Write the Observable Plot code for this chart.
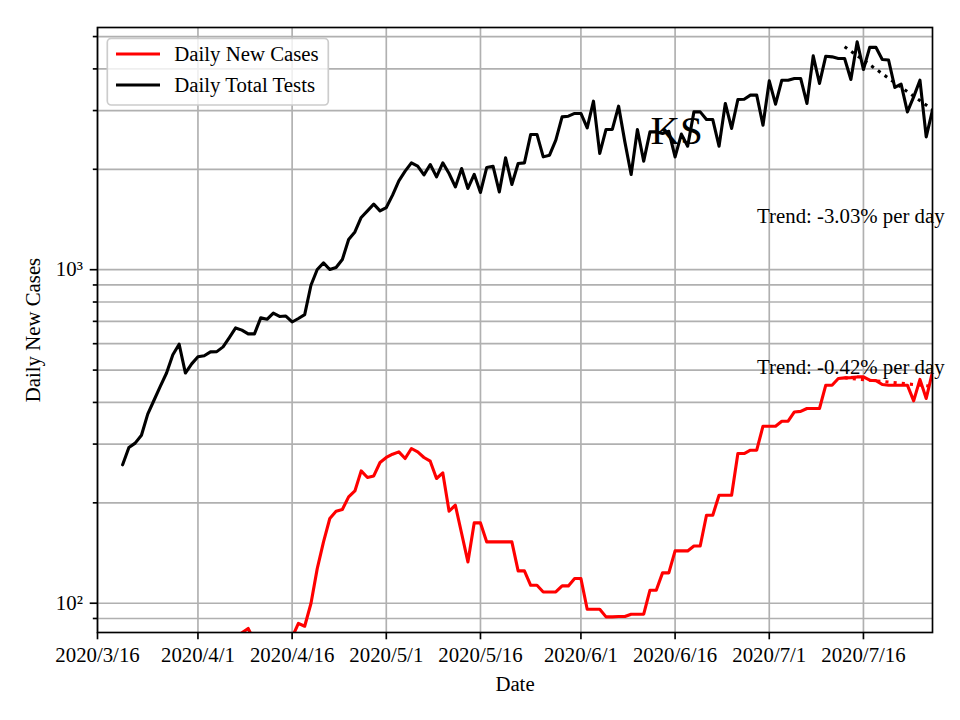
<!DOCTYPE html>
<html><head><meta charset="utf-8">
<script src="https://cdn.jsdelivr.net/npm/d3@7"></script>
<script src="https://cdn.jsdelivr.net/npm/@observablehq/plot@0.6"></script>
<style>
html,body{margin:0;padding:0;background:#fff;}
#chart{width:960px;height:720px;}
</style></head><body><div id="chart"></div>
<script>
// ---- data ----
const testsStart = "2020-03-20";
const dailyTotalTests = [
 260,293,302,319,369,406,447,490,556,598,
 490,522,548,552,567,568,587,626,669,659,
 642,642,717,710,741,724,726,697,714,733,
 898,1001,1048,1001,1015,1073,1232,1298,1434,1501,
 1572,1501,1536,1673,1846,1974,2090,2043,1924,2067,
 1898,2090,1943,1771,2011,1752,1932,1704,2025,2043,
 1711,2164,1801,2082,2090,2544,2544,2179,2205,2445,
 2872,2886,2941,2941,2662,3201,2231,2633,2633,3093,
 2417,1930,2633,2115,2590,2590,2560,2600,2179,2550,
 2346,2973,2973,2820,2820,2346,3150,2651,3238,3245,
 3337,3337,2712,3683,3135,3700,3700,3744,3744,3150,
 4376,3617,4366,4346,4298,4298,3718,4822,3984,4639,
 4639,4269,4254,3518,3599,2973,3298,3700,2502,3008
];
const casesStart = "2020-04-08";
// null = no visible segment (values below the axis)
const dailyNewCases = [
 81.5,84,77,null,null,null,null,null,79,87,
 85.3,99.8,127,152.7,179.5,188.7,191,208.3,217.1,249.3,
 238.2,240.8,264.2,273.5,279.8,284.3,271.6,291,284.3,273.5,
 266.6,236.6,245.9,188.7,196.7,161.8,133,174.1,174.1,152.7,
 152.7,152.7,152.7,152.7,125,125,113.2,113.2,108.1,108.1,
 108.1,112.7,112.7,118.6,118.6,95.9,95.9,95.9,91,91,
 91.2,91.2,92.7,92.7,92.7,109.4,109.4,123.3,123.3,143.5,
 143.5,143.5,148.5,148.5,183.6,183.6,210.8,210.8,210.8,281.1,
 281.1,287.6,287.6,339.4,339.4,339.4,351.3,351.3,374.6,375.9,
 383.5,383.5,383.5,450.5,450.5,471.8,473.8,474.6,477,477,
 466.3,465,452.7,450.5,450.5,450.5,450.5,404.2,469,411,494
];
const trendDates = ["2020-07-13", "2020-07-27"];
const testsTrendValues = [4660, 3020];
const casesTrendValues = [474, 447];
const testsTrendLabel = "Trend: -3.03% per day";
const casesTrendLabel = "Trend: -0.42% per day";
const trendLabelDate = "2020-06-29T01:30Z";
const trendLabelValues = [1441, 509];
const stateLabel = "KS";
const stateLabelDate = "2020-06-16T06:00Z";
const stateLabelValue = 2600;
const xTickLabels = ["2020/3/16","2020/4/1","2020/4/16","2020/5/1","2020/5/16","2020/6/1","2020/6/16","2020/7/1","2020/7/16"];
const xDomain = ["2020-03-16", "2020-07-27"];
const yDomain = [81.7, 5323];
const yMajorTicks = [100, 1000];
const yMajorLabels = ["10²", "10³"];
const yMinorTicks = [90, 200, 300, 400, 500, 600, 700, 800, 900, 2000, 3000, 4000, 5000];
const seriesNames = ["Daily New Cases", "Daily Total Tests"];
const seriesColors = ["#ff0000", "#000000"];
const xLabel = "Date";
const yLabel = "Daily New Cases";

// ---- build tables ----
const parseTick = s => { const [y,m,d] = s.split("/").map(Number); return new Date(Date.UTC(y, m-1, d)); };
const xTicks = xTickLabels.map(parseTick);
const tickLabelOf = new Map(xTicks.map((d,i) => [+d, xTickLabels[i]]));
const t0 = new Date(testsStart), c0 = new Date(casesStart);
const tests = dailyTotalTests.map((v,i) => ({date: d3.utcDay.offset(t0, i), value: v}));
const cases = dailyNewCases.map((v,i) => ({date: d3.utcDay.offset(c0, i), value: v}));
const testsTrend = trendDates.map((d,i) => ({date: new Date(d), value: testsTrendValues[i]}));
const casesTrend = trendDates.map((d,i) => ({date: new Date(d), value: casesTrendValues[i]}));
const trendLabels = [
  {date: new Date(trendLabelDate), value: trendLabelValues[0], text: testsTrendLabel},
  {date: new Date(trendLabelDate), value: trendLabelValues[1], text: casesTrendLabel}
];
const FONT = "'Liberation Serif','Times New Roman',serif";
const FS = 20.8;

const chart = Plot.plot({
  width: 960, height: 720,
  marginLeft: 97, marginRight: 28, marginTop: 27, marginBottom: 88,
  style: {fontFamily: FONT, fontSize: FS + "px", background: "white", color: "black"},
  x: {type: "utc", domain: xDomain.map(d => new Date(d))},
  y: {type: "log", domain: yDomain},
  marks: [
    Plot.ruleY(yMajorTicks.concat(yMinorTicks), {stroke: "#b0b0b0", strokeWidth: 1.67}),
    Plot.ruleX(xTicks, {stroke: "#b0b0b0", strokeWidth: 1.67}),
    Plot.lineY(cases, {x: "date", y: "value", stroke: seriesColors[0], strokeWidth: 3.1, clip: true}),
    Plot.lineY(tests, {x: "date", y: "value", stroke: seriesColors[1], strokeWidth: 3.1, clip: true}),
    Plot.lineY(casesTrend, {x: "date", y: "value", stroke: seriesColors[0], strokeWidth: 3.1, strokeDasharray: "3.1,5.1", strokeLinecap: "butt", clip: true}),
    Plot.lineY(testsTrend, {x: "date", y: "value", stroke: seriesColors[1], strokeWidth: 3.1, strokeDasharray: "3.1,5.1", strokeLinecap: "butt", clip: true}),
    Plot.text(trendLabels, {x: "date", y: "value", text: "text", textAnchor: "start", fontSize: FS, fill: "black"}),
    Plot.text([stateLabel], {x: () => new Date(stateLabelDate), y: () => stateLabelValue, text: d => d, fontSize: 41, fill: "black"}),
    Plot.axisX(xTicks, {tickSize: 7.3, tickPadding: 7.3, strokeWidth: 1.67, fontSize: FS, tickFormat: d => tickLabelOf.get(+d), label: null}),
    Plot.axisY(yMajorTicks, {tickSize: 7.3, tickPadding: 7.3, strokeWidth: 1.67, fontSize: FS, tickFormat: d => yMajorLabels[yMajorTicks.indexOf(d)], label: null}),
    Plot.axisY(yMinorTicks, {tickSize: 4.2, strokeWidth: 1.67, tickFormat: () => "", label: null}),
    Plot.text([xLabel], {frameAnchor: "bottom", dy: 58, text: d => d, fontSize: FS, fill: "black"}),
    Plot.frame({stroke: "black", strokeWidth: 1.67})
  ]
});
document.getElementById("chart").appendChild(chart);

const svg = d3.select(chart);
// ---- y axis title ----
svg.append("text")
  .attr("transform", "translate(40,330) rotate(-90)")
  .attr("text-anchor", "middle").attr("font-family", FONT).attr("font-size", FS)
  .attr("fill", "black").text(yLabel);

// ---- legend (upper left, inside the axes) ----
const lg = svg.append("g").attr("font-family", FONT).attr("font-size", FS).attr("text-anchor", "start");
lg.append("rect").attr("x", 107.3).attr("y", 38.3).attr("width", 221).attr("height", 66.7)
  .attr("rx", 4).attr("fill", "white").attr("fill-opacity", 0.8)
  .attr("stroke", "#cccccc").attr("stroke-width", 1.67);
seriesNames.forEach((name, i) => {
  const yy = 54 + i * 31;
  lg.append("line").attr("x1", 116).attr("x2", 160).attr("y1", yy).attr("y2", yy)
    .attr("stroke", seriesColors[i]).attr("stroke-width", 3.1);
  lg.append("text").attr("x", 174.3).attr("y", yy + 6.7).attr("text-anchor", "start").attr("fill", "black").text(name);
});
</script>
</body></html>
